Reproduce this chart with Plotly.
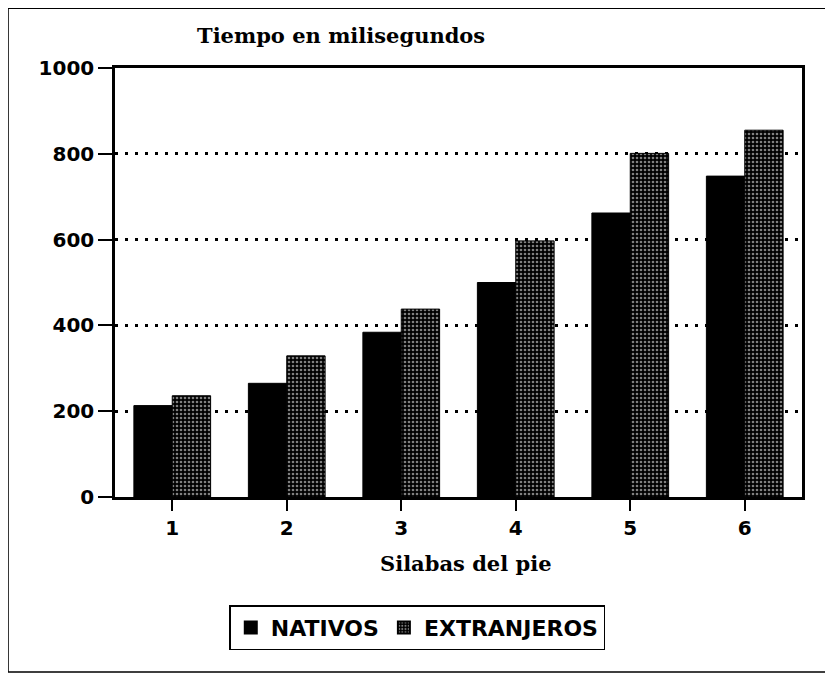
import plotly.graph_objects as go

categories = ["1", "2", "3", "4", "5", "6"]
nativos = [213, 265, 384, 500, 662, 748]
extranjeros = [236, 329, 438, 597, 801, 855]
y_ticks = [0, 200, 400, 600, 800, 1000]

sans = "DejaVu Sans, Arial, sans-serif"
serif = "DejaVu Serif, Times New Roman, serif"

fig = go.Figure()
fig.add_trace(go.Bar(
    x=categories, y=nativos, name="NATIVOS",
    marker=dict(color="black", line=dict(color="black", width=1)),
))
fig.add_trace(go.Bar(
    x=categories, y=extranjeros, name="EXTRANJEROS",
    marker=dict(color="black", line=dict(color="black", width=1),
                pattern=dict(shape=".", bgcolor="black", fgcolor="white",
                             size=4, solidity=0.35, fillmode="overlay")),
))

# the page body adds an 8px offset, so the figure is sized to fit the window
fig.update_layout(
    width=825, height=671,
    margin=dict(l=107, r=31, t=60, b=182),
    paper_bgcolor="white", plot_bgcolor="white",
    barmode="group", bargap=0.33, bargroupgap=0,
    showlegend=True,
    legend=dict(orientation="h", x=0.44, xanchor="center", y=-0.252, yanchor="top",
                bordercolor="black", borderwidth=1.5, bgcolor="white",
                font=dict(family=sans, size=22, color="black", weight="bold"),
                itemsizing="constant", tracegroupgap=0),
    font=dict(family=sans, color="black"),
)

fig.update_xaxes(
    type="category", range=[-0.5, 5.5],
    showline=True, linecolor="black", linewidth=2.5, mirror=True,
    ticks="outside", ticklen=11, tickwidth=2, tickcolor="black",
    tickfont=dict(family=sans, size=20, color="black", weight="bold"),
    showgrid=False,
)
fig.update_yaxes(
    range=[0, 1000], tickvals=y_ticks, ticktext=[str(v) for v in y_ticks],
    showline=True, linecolor="black", linewidth=2.5, mirror=True,
    ticks="outside", ticklen=14, tickwidth=2, tickcolor="black",
    tickfont=dict(family=sans, size=20, color="black", weight="bold"),
    showgrid=True, gridcolor="black", gridwidth=2.5, griddash="3px,7px",
    zeroline=False,
)

fig.add_annotation(text="Tiempo en milisegundos", xref="paper", yref="paper",
                   x=0.329, y=1.076, xanchor="center", yanchor="middle", showarrow=False,
                   font=dict(family=serif, size=21, color="black", weight="bold"))
fig.add_annotation(text="Silabas del pie", xref="paper", yref="paper",
                   x=0.511, y=-0.154, xanchor="center", yanchor="middle", showarrow=False,
                   font=dict(family=serif, size=21, color="black", weight="bold"))

fig.add_shape(type="rect", xref="paper", yref="paper",
              x0=-0.1557, x1=1.035, y0=-0.408, y1=1.139,
              line=dict(color="black", width=1.5), layer="below")

fig.write_html("out.html")
